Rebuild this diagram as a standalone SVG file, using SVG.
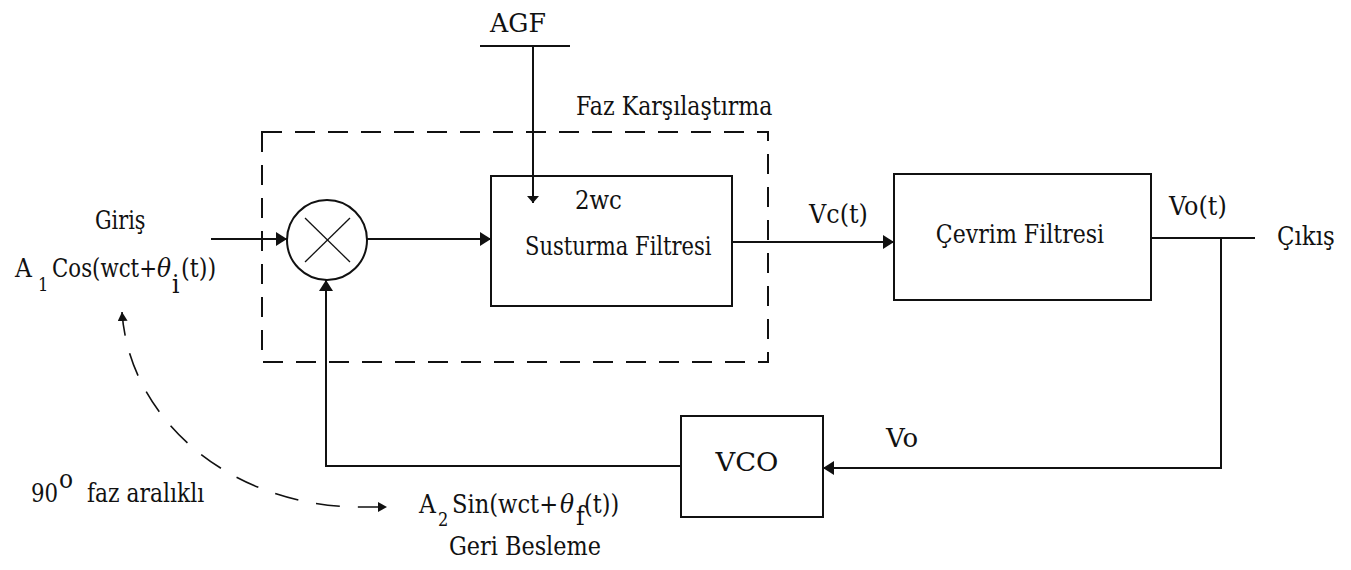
<svg xmlns="http://www.w3.org/2000/svg" width="1351" height="570" viewBox="0 0 1351 570">
<defs>
<style>
text{font-family:'DejaVu Serif',serif;font-size:26px;fill:#111}
.sub{font-size:18px}
.ln{stroke:#111;stroke-width:2;fill:none}
.bx{stroke:#111;stroke-width:2;fill:#fff}
.dash{stroke:#111;stroke-width:2;fill:none;stroke-dasharray:20 13}
.arc{stroke:#111;stroke-width:1.6;fill:none;stroke-dasharray:24 18}
</style>
<marker id="ah" markerUnits="userSpaceOnUse" markerWidth="12" markerHeight="14" refX="11" refY="7" orient="auto">
<path d="M0,0 L11,7 L0,14 z" fill="#111"/>
</marker>
<marker id="ahs" markerUnits="userSpaceOnUse" markerWidth="8" markerHeight="12" refX="7" refY="6" orient="auto">
<path d="M0,0 L7,6 L0,12 z" fill="#111"/>
</marker>
<marker id="ahd" markerUnits="userSpaceOnUse" markerWidth="10" markerHeight="10" refX="9" refY="5" orient="auto">
<path d="M0,0 L9,5 L0,10 z" fill="#111"/>
</marker>
<marker id="ahd0" markerUnits="userSpaceOnUse" markerWidth="10" markerHeight="10" refX="9" refY="5" orient="auto-start-reverse">
<path d="M0,0 L9,5 L0,10 z" fill="#111"/>
</marker>
</defs>
<rect width="1351" height="570" fill="#fff"/>

<g id="phase-compare-group">
<rect class="dash" x="262" y="132" width="506" height="230"/>
<text transform="translate(576,115) scale(0.85,1)">Faz Karşılaştırma</text>
</g>

<g id="agf">
<line class="ln" x1="480" y1="46" x2="570" y2="46"/>
<text transform="translate(518,32) scale(0.97,1)" text-anchor="middle">AGF</text>
</g>

<g id="mixer">
<circle class="bx" cx="327" cy="240" r="40"/>
<line x1="305" y1="218" x2="350" y2="262" stroke="#111" stroke-width="1.3"/>
<line x1="350" y1="218" x2="305" y2="262" stroke="#111" stroke-width="1.3"/>
</g>

<g id="susturma-filtresi">
<rect class="bx" x="491" y="176" width="241" height="130"/>
<text transform="translate(575,209) scale(0.88,1)">2wc</text>
<text transform="translate(525,255) scale(0.81,1)">Susturma Filtresi</text>
</g>

<g id="cevrim-filtresi">
<rect class="bx" x="894" y="174" width="257" height="126"/>
<text transform="translate(1020,243) scale(0.85,1)" text-anchor="middle">Çevrim Filtresi</text>
</g>

<g id="vco">
<rect class="bx" x="681" y="416" width="142" height="101"/>
<text transform="translate(747,471) scale(1.05,1)" text-anchor="middle">VCO</text>
</g>

<g id="connectors">
<line class="ln" x1="533" y1="46" x2="533" y2="203" stroke-width="1.5" marker-end="url(#ahs)"/>
<line class="ln" x1="211" y1="239" x2="287" y2="239" marker-end="url(#ah)"/>
<line class="ln" x1="367" y1="239" x2="491" y2="239" marker-end="url(#ah)"/>
<line class="ln" x1="732" y1="242" x2="894" y2="242" marker-end="url(#ah)"/>
<line class="ln" x1="1151" y1="238" x2="1255" y2="238"/>
<polyline class="ln" points="1221,238 1221,468 823,468" marker-end="url(#ah)"/>
<polyline class="ln" points="681,466 326,466 326,280" marker-end="url(#ah)"/>
<path class="arc" d="M122,312 A238 207 0 0 0 360 507 L387 507" marker-start="url(#ahd0)" marker-end="url(#ahd)"/>
</g>

<g id="labels">
<text transform="translate(809,223) scale(0.92,1)">Vc(t)</text>
<text transform="translate(1169,215) scale(0.92,1)">Vo(t)</text>
<text transform="translate(1277,245) scale(0.88,1)">Çıkış</text>
<text transform="translate(886,447)">Vo</text>
<text transform="translate(95,229) scale(0.8,1)">Giriş</text>
<text transform="translate(15,277) scale(0.9,1)">A</text>
<text class="sub" transform="translate(38,291) scale(0.9,1)">1</text>
<text transform="translate(52,277) scale(0.82,1)">Cos(wct+</text>
<text transform="translate(157,277) scale(0.9,1)" font-style="italic">θ</text>
<text transform="translate(172,293) scale(0.9,1)" font-size="14">i</text>
<text transform="translate(181,277) scale(0.86,1)">(t))</text>
<text transform="translate(31,502) scale(0.82,1)">90</text>
<text transform="translate(59,488) scale(0.9,1)" font-size="15">o</text>
<text transform="translate(87,502) scale(0.84,1)">faz aralıklı</text>
<text transform="translate(419,513) scale(0.9,1)">A</text>
<text class="sub" transform="translate(438,526) scale(0.9,1)">2</text>
<text transform="translate(452,513) scale(0.87,1)">Sin(wct+</text>
<text transform="translate(560,513) scale(0.9,1)" font-style="italic">θ</text>
<text transform="translate(576,525) scale(0.9,1)" font-size="15">f</text>
<text transform="translate(584,513) scale(0.86,1)">(t))</text>
<text transform="translate(449,555) scale(0.86,1)">Geri Besleme</text>
</g>
</svg>
